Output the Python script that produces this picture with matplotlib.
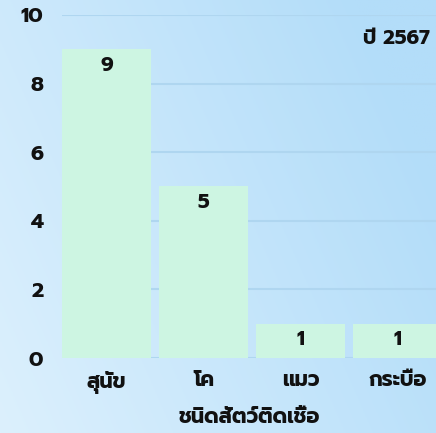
import numpy as np
import matplotlib
matplotlib.use("Agg")
import matplotlib.pyplot as plt

animals = ["สุนัข", "โค", "แมว", "กระบือ"]
counts = [9, 5, 1, 1]
y_ticks = [0, 2, 4, 6, 8, 10]

plt.rcParams["font.family"] = ["Prompt", "DejaVu Sans"]

W, H = 436, 433
fig = plt.figure(figsize=(W / 100, H / 100), dpi=100)

# background gradient (light bottom-left -> blue right)
bg = fig.add_axes([0, 0, 1, 1], zorder=-10)
xx, yy = np.meshgrid(np.linspace(0, 1, 200), np.linspace(0, 1, 200))
t = np.clip(0.8 * xx + 0.35 * yy, 0, 1)
c0 = np.array([0xdc, 0xf0, 0xfd]) / 255
c1 = np.array([0xb3, 0xdd, 0xf9]) / 255
img = c0[None, None, :] * (1 - t[..., None]) + c1[None, None, :] * t[..., None]
bg.imshow(img, origin="lower", extent=[0, 1, 0, 1], aspect="auto")
bg.axis("off")

ax = fig.add_axes([62 / W, 75 / H, 1 - 62 / W, 343 / H])
ax.patch.set_alpha(0)
x = np.arange(len(animals))
bars = ax.bar(x, counts, width=0.92, color="#cdf5e2", zorder=3)
for b, v in zip(bars, counts):
    ax.text(b.get_x() + b.get_width() / 2, v - 0.46, str(v), ha="center", va="center",
            fontsize=14.5, fontweight="bold", color="#111111", zorder=4)

ax.set_xlim(-0.46, 3.396)
ax.set_ylim(0, 10)
ax.set_yticks(y_ticks)
ax.set_xticks(x)
ax.set_xticklabels(animals)
ax.tick_params(length=0, labelsize=15, colors="#111111")
ax.tick_params(axis="y", pad=13.5)
ax.tick_params(axis="x", pad=9.5)
for lbl in ax.get_xticklabels() + ax.get_yticklabels():
    lbl.set_fontweight("bold")
ax.grid(axis="y", color="#afd6f0", linewidth=1.5, zorder=1)
for s in ax.spines.values():
    s.set_visible(False)
ax.set_xlabel("ชนิดสัตว์ติดเชื้อ", fontsize=15, fontweight="bold", color="#111111", labelpad=10)

fig.text(430 / W, 1 - 38 / H, "ปี 2567", ha="right", va="center", fontsize=14.5,
         fontweight="bold", color="#111111")

fig.savefig("out.png", dpi=100)
